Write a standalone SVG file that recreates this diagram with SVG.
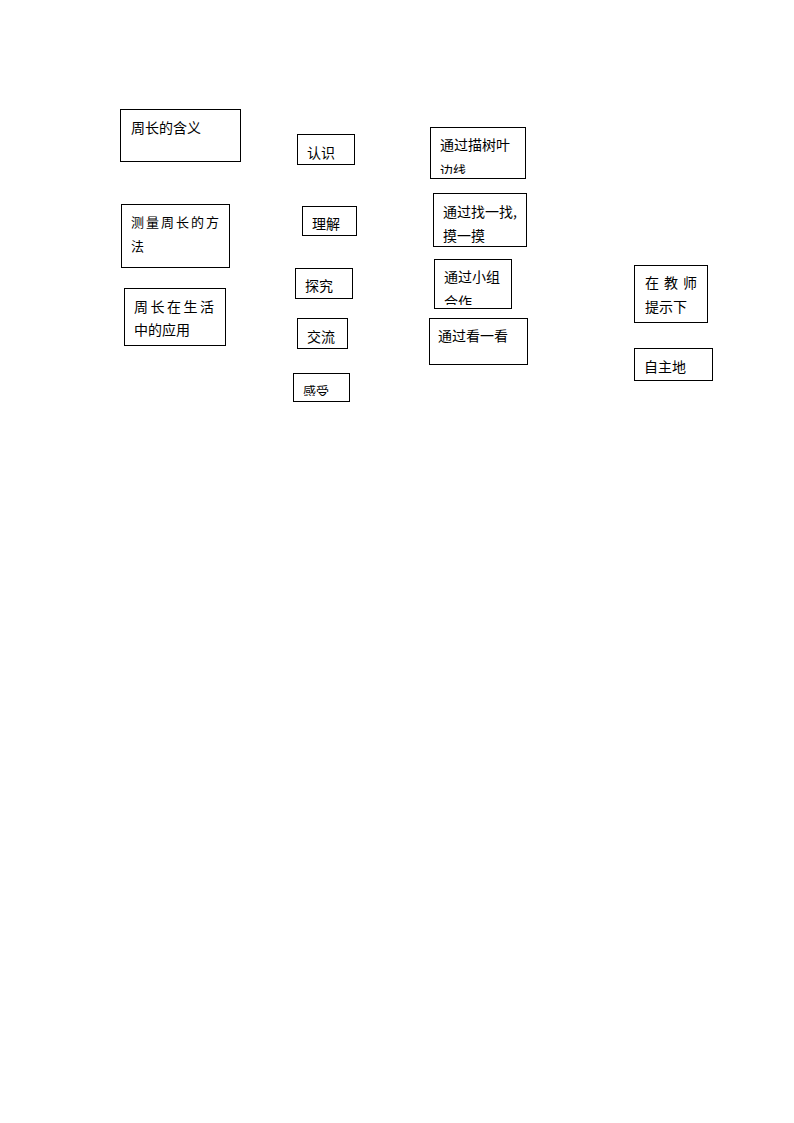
<svg xmlns="http://www.w3.org/2000/svg" width="794" height="1123" viewBox="0 0 794 1123">
<style>
rect.box{fill:#fff;stroke:#000;stroke-width:1}
text{font-family:"Noto Sans CJK SC","Noto Sans",sans-serif;font-size:14px;fill:#000}
</style>
<defs>
<clipPath id="c9"><rect x="430" y="127" width="95" height="47"/></clipPath>
<clipPath id="c11"><rect x="434" y="259" width="77" height="46"/></clipPath>
<clipPath id="c8"><rect x="293" y="373" width="56" height="23"/></clipPath>
</defs>
<rect width="794" height="1123" fill="#fff"/>
<g id="connectors"></g>
<g id="n1"><rect class="box" x="120.5" y="109.5" width="120" height="52"/><text x="131" y="133">周长的含义</text></g>
<g id="n2"><rect class="box" x="297.5" y="134.5" width="57" height="30"/><text x="307" y="158">认识</text></g>
<g id="n3"><rect class="box" x="121.5" y="204.5" width="108" height="63"/><text x="131" y="227" style="font-size:13px;letter-spacing:2px">测量周长的方</text><text x="131" y="251" style="font-size:13px">法</text></g>
<g id="n4"><rect class="box" x="302.5" y="206.5" width="54" height="29"/><text x="312" y="229">理解</text></g>
<g id="n5"><rect class="box" x="124.5" y="288.5" width="101" height="57"/><text x="134" y="312" style="letter-spacing:2.5px">周长在生活</text><text x="134" y="335">中的应用</text></g>
<g id="n6"><rect class="box" x="295.5" y="268.5" width="57" height="30"/><text x="305" y="291">探究</text></g>
<g id="n7"><rect class="box" x="297.5" y="318.5" width="50" height="30"/><text x="307" y="342">交流</text></g>
<g id="n8"><rect class="box" x="293.5" y="373.5" width="56" height="28"/><text x="303" y="396" clip-path="url(#c8)" style="font-size:13px">感受</text></g>
<g id="n9"><rect class="box" x="430.5" y="127.5" width="95" height="51"/><text x="440" y="150">通过描树叶</text><text x="440" y="175" clip-path="url(#c9)" style="font-size:13px">边线</text></g>
<g id="n10"><rect class="box" x="433.5" y="193.5" width="93" height="53"/><text x="443" y="217">通过找一找,</text><text x="443" y="241">摸一摸</text></g>
<g id="n11"><rect class="box" x="434.5" y="259.5" width="77" height="49"/><text x="444" y="282">通过小组</text><text x="444" y="307" clip-path="url(#c11)">合作</text></g>
<g id="n12"><rect class="box" x="429.5" y="318.5" width="98" height="46"/><text x="438" y="341">通过看一看</text></g>
<g id="n13"><rect class="box" x="634.5" y="265.5" width="73" height="57"/><text x="645" y="288" style="letter-spacing:5px">在教师</text><text x="645" y="312">提示下</text></g>
<g id="n14"><rect class="box" x="634.5" y="348.5" width="78" height="32"/><text x="644" y="372">自主地</text></g>
</svg>
